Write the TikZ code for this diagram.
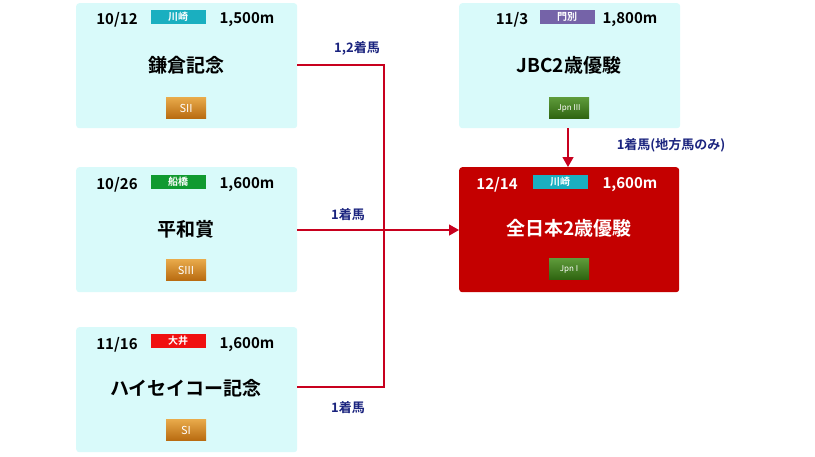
\documentclass[tikz,border=0pt]{standalone}
\usepackage{fontspec}
\setmainfont{Noto Sans CJK JP}[BoldFont={* Bold}]
\usetikzlibrary{arrows.meta}
\definecolor{boxbg}{HTML}{D9FAFA}
\definecolor{redbox}{HTML}{C40000}
\definecolor{navy}{HTML}{1A237E}
\definecolor{kawa}{HTML}{1AAFC0}
\definecolor{funa}{HTML}{109A30}
\definecolor{ooi}{HTML}{F01010}
\definecolor{monbetsu}{HTML}{7563A8}
\definecolor{goldA}{HTML}{E8A94A}
\definecolor{goldB}{HTML}{B86A10}
\definecolor{jpnA}{HTML}{5E9A3A}
\definecolor{jpnB}{HTML}{2E6410}
\definecolor{lineR}{HTML}{C8001E}
\tikzset{x=1pt,y=-1pt,
 racebox/.style={fill=boxbg,rounded corners=3pt,minimum width=221pt,minimum height=125pt,anchor=north west,inner sep=0pt},
 finalbox/.style={fill=redbox,rounded corners=3pt,minimum width=220pt,minimum height=125pt,anchor=north west,inner sep=0pt},
 datet/.style={font=\bfseries\fontsize{15}{15}\selectfont,inner sep=0pt},
 titlet/.style={font=\bfseries\fontsize{19}{19}\selectfont,inner sep=0pt},
 venue/.style={fill=#1,text=white,font=\bfseries\fontsize{10}{10}\selectfont,minimum width=55pt,minimum height=14pt,inner sep=0pt},
 sgrade/.style={top color=goldA,bottom color=goldB,text=white,font=\rmfamily\fontsize{11}{11}\selectfont,minimum width=40pt,minimum height=21pt,inner sep=0pt},
 jgrade/.style={top color=jpnA,bottom color=jpnB,text=white,font=\rmfamily\fontsize{8}{8}\selectfont,minimum width=40pt,minimum height=21pt,inner sep=0pt},
 lbl/.style={text=navy,font=\bfseries\fontsize{13}{13}\selectfont,inner sep=0pt},
 conn/.style={lineR,line width=1.3pt},
}
\begin{document}
\begin{tikzpicture}
\useasboundingbox (0,0) rectangle (815,456);
% boxes
\node[racebox] (b1) at (76,3) {};
\node[racebox] (b2) at (76,167) {};
\node[racebox] (b3) at (76,327) {};
\node[racebox] (b4) at (459,3) {};
\node[finalbox] (b5) at (459,167) {};
% box 1
\node[datet] (d1) at (117,20) {10/12};
\node[venue=kawa] (v1) at (178,17) {川崎};
\node[datet] (l1) at (247,20) {1,500m};
\node[titlet] (t1) at (186,65) {鎌倉記念};
\node[sgrade] (g1) at (186,108) {SII};
% box 2
\node[datet] (d2) at (117,185) {10/26};
\node[venue=funa] (v2) at (178,182) {船橋};
\node[datet] (l2) at (247,185) {1,600m};
\node[titlet] (t2) at (186,229) {平和賞};
\node[sgrade] (g2) at (186,270) {SIII};
% box 3
\node[datet] (d3) at (117,345) {11/16};
\node[venue=ooi] (v3) at (178,341) {大井};
\node[datet] (l3) at (247,345) {1,600m};
\node[titlet] (t3) at (186,388) {ハイセイコー記念};
\node[sgrade] (g3) at (186,430) {SI};
% box 4
\node[datet] (d4) at (512,20) {11/3};
\node[venue=monbetsu] (v4) at (567,17) {門別};
\node[datet] (l4) at (630,20) {1,800m};
\node[titlet] (t4) at (569,65) {JBC2歳優駿};
\node[jgrade] (g4) at (569,108) {J\textsc{pn} III};
% box 5
\node[datet,text=white] (d5) at (497,185) {12/14};
\node[venue=kawa] (v5) at (560,182) {川崎};
\node[datet,text=white] (l5) at (630,185) {1,600m};
\node[titlet,text=white] (t5) at (569,228) {全日本2歳優駿};
\node[jgrade] (g5) at (569,269) {J\textsc{pn} I};
% connectors
\coordinate (j1) at (384,65);
\coordinate (j3) at (384,387);
\draw[conn] (b1.east |- 0,65) -- (j1) -- (j3) -- (b3.east |- 0,387);
\draw[conn,-{Triangle[length=10pt,width=11pt]}] (b2.east |- 0,230) -- (b5.west |- 0,230);
\draw[conn,-{Triangle[length=10pt,width=11pt]}] (b4.south -| 568,0) -- (b5.north -| 568,0);
\node[lbl] (a1) at (357,48) {1,2着馬};
\node[lbl] (a2) at (348,215) {1着馬};
\node[lbl] (a3) at (348,408) {1着馬};
\node[lbl] (a4) at (671,145) {1着馬(地方馬のみ)};
\end{tikzpicture}
\end{document}
